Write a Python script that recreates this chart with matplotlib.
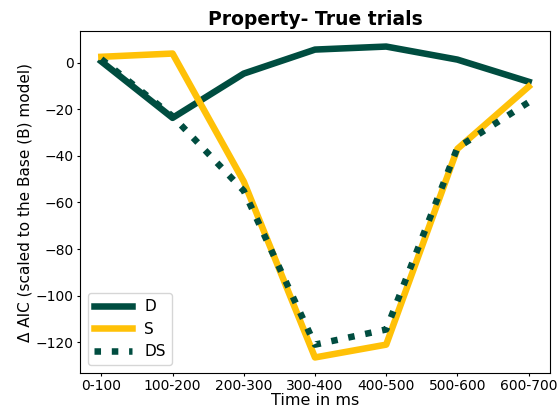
import numpy as np
import matplotlib
matplotlib.use('Agg')
import matplotlib.pyplot as plt

time_bins = ['0-100', '100-200', '200-300', '300-400', '400-500', '500-600', '600-700']
aic_d = [0.5, -23.7, -4.7, 5.6, 6.9, 1.3, -8.2]
aic_s = [2.5, 3.9, -51, -126.5, -121, -37, -10.3]
aic_ds = [1.5, -23, -55, -121, -114.5, -36.5, -17]

dark_green = '#004d40'
gold = '#ffc107'

fig = plt.figure(figsize=(5.57, 4.08), dpi=100)
ax = fig.add_axes([0.1436, 0.0858, 0.8438, 0.8382])
x = np.arange(len(time_bins))
ax.plot(x, aic_d, color=dark_green, linewidth=4.7, label='D')
ax.plot(x, aic_s, color=gold, linewidth=4.7, label='S')
ax.plot(x, aic_ds, color=dark_green, linewidth=4.7, linestyle=':', label='DS')

ax.set_xticks(x)
ax.set_xticklabels(time_bins)
ax.tick_params(axis='both', labelsize=10, length=2.5, pad=2)
ax.set_xlabel('Time in ms', fontsize=11.5, labelpad=0)
ax.set_ylabel('Δ AIC (scaled to the Base (B) model)', fontsize=11, labelpad=2)
ax.set_title('Property- True trials', fontsize=13.5, fontweight='bold', pad=4)
ax.legend(loc='lower left', fontsize=11, handlelength=2.5, borderaxespad=0.5)

plt.savefig('out.png')
